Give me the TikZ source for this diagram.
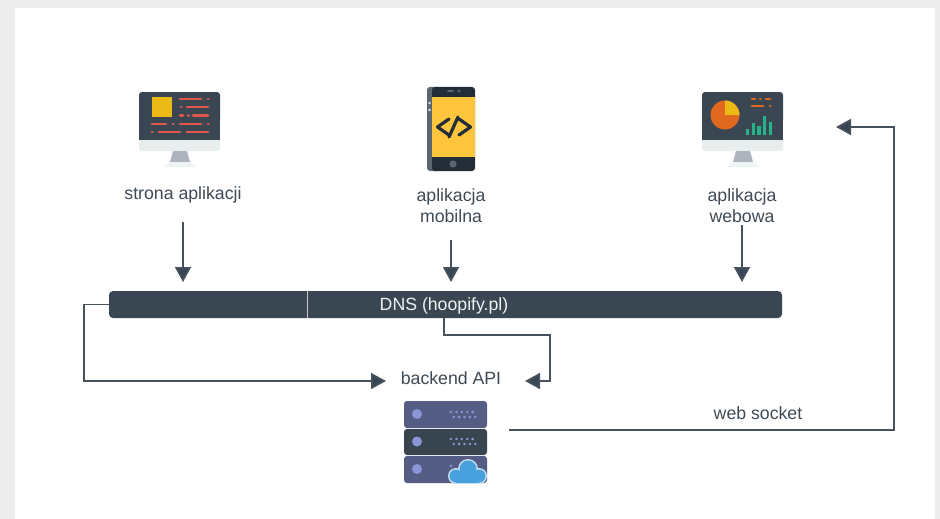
\documentclass[tikz,border=0pt]{standalone}
\usepackage{fontspec}
\setmainfont{Liberation Sans}
\usetikzlibrary{arrows.meta}
\definecolor{pagebg}{HTML}{EDEDED}
\definecolor{slate}{HTML}{3A4753}
\definecolor{linec}{HTML}{46525E}
\definecolor{txt}{HTML}{3F4A54}
\definecolor{basec}{HTML}{E8EEEE}
\definecolor{footc}{HTML}{EEF3F3}
\definecolor{standc}{HTML}{AEB4BD}
\definecolor{sun}{HTML}{ECBA16}
\definecolor{redc}{HTML}{E2574C}
\definecolor{orangec}{HTML}{E0681F}
\definecolor{greenc}{HTML}{26B38A}
\definecolor{phoneY}{HTML}{FFC53D}
\definecolor{phoneD}{HTML}{222D37}
\definecolor{phoneG}{HTML}{5C6670}
\definecolor{srvA}{HTML}{565D85}
\definecolor{srvB}{HTML}{38454F}
\definecolor{srvDot}{HTML}{8A96D8}
\definecolor{cloudc}{HTML}{48A0DC}
\definecolor{cloudl}{HTML}{C5DFEE}
\tikzset{
  x=1pt,y=-1pt,
  conn/.style={draw=linec,line width=1.7pt,-{Triangle[length=15pt,width=16pt,fill=slate]},line join=miter},
  label/.style={text=txt,font=\fontsize{17.7}{21}\selectfont,align=center,inner sep=0pt},
  holder/.style={inner sep=0pt,minimum width=#1},
  reddash/.style={draw=redc,line width=2.8pt,line cap=round},
  orangedash/.style={draw=orangec,line width=2.8pt,line cap=round},
  greenbar/.style={draw=greenc,line width=3.2pt},
  monitorbody/.pic={
    \fill[basec,rounded corners=3pt] (0,40) rectangle (81,59);
    \fill[slate,rounded corners=3pt] (0,0) rectangle (81,30);
    \fill[slate] (0,20) rectangle (81,48);
    \fill[standc] (34,59) -- (48,59) -- (51,70) -- (31,70) -- cycle;
    \fill[footc] (31,70) -- (51,70) -- (58,75) -- (24,75) -- cycle;
  }
}
\begin{document}
\begin{tikzpicture}
\useasboundingbox (0,0) rectangle (940,519);
\fill[pagebg] (0,0) rectangle (940,519);
\fill[white] (15,8) rectangle (935,519);

% monitor 1
\pic at (139,92) {monitorbody};
\fill[sun] (152,97) rectangle (172,117);
\foreach \xa/\xb/\yy in {180/201/99,208/208.4/99,181/181.4/107,187/208/107,180/183/115.5,188/188.4/115.5,193/208/115.5,152/166/124,173/173.4/124,180/201/124,208/208.4/124,152/152.4/132,159/180/132,187/208/132}
  \draw[reddash] (\xa,\yy) -- (\xb,\yy);
\node[holder=81pt,minimum height=75pt] (siteicon) at (179.5,129.5) {};

% phone
\fill[phoneG,rounded corners=3pt] (427,87) rectangle (440,171);
\fill[phoneD,rounded corners=3pt] (432,87) rectangle (475,171);
\fill[phoneY] (432,97) rectangle (475,157);
\fill[white!80!phoneG] (429.5,103) circle (1.4);
\fill[white!80!phoneG] (429.5,110) circle (1.4);
\draw[phoneG,line width=2pt,line cap=round] (448,91) -- (453,91);
\fill[phoneG] (459,91) circle (1.7);
\fill[phoneG] (453,164) circle (3.6);
\draw[phoneD,line width=3.2pt,line cap=round,line join=round] (449,119) -- (437.5,127) -- (449,135);
\draw[phoneD,line width=3.2pt,line cap=round,line join=round] (459,119) -- (470.5,127) -- (459,135);
\draw[phoneD,line width=3.2pt,line cap=round] (458,117) -- (449,137);
\node[holder=48pt,minimum height=84pt] (phoneicon) at (451,129) {};

% monitor 2
\pic at (702,92) {monitorbody};
\fill[orangec] (725,115) circle (14.5);
\fill[sun] (725,115) -- (725,100.5) arc[start angle=-90,end angle=0,radius=14.5] -- cycle;
\foreach \xa/\xb/\yy in {752/755/99,760/760.4/99,766/770/99,752/763/106,770/770.4/106}
  \draw[orangedash] (\xa,\yy) -- (\xb,\yy);
\foreach \xx/\yy in {747.7/129,753.3/123,759/126,764.7/116,770.3/122}
  \draw[greenbar] (\xx,135) -- (\xx,\yy);
\node[holder=81pt,minimum height=75pt] (webicon) at (742.5,129.5) {};

% server
\fill[srvA,rounded corners=3pt] (404,401) rectangle (487,428);
\fill[srvB,rounded corners=3pt] (404,429) rectangle (487,455);
\fill[srvA,rounded corners=3pt] (404,456) rectangle (487,483);
\foreach \yy in {414,441.5,469} \fill[srvDot] (417,\yy) circle (5);
\foreach \yy in {412,439} {
  \foreach \xx in {451,456.4,461.8,467.2,472.6} \fill[srvDot] (\xx,\yy) circle (1.4);
  \foreach \xx in {453.7,459.1,464.5,469.9,475.3} \fill[srvDot] (\xx,\yy+5) circle (1.4);
}
\fill[srvDot] (451,466) circle (1.4);
\fill[cloudl] (468,469) circle (10);
\fill[cloudl] (456,476) circle (8);
\fill[cloudl] (479,476) circle (8);
\fill[cloudl] (456,476) rectangle (479,484);
\fill[cloudc] (468,469) circle (8.5);
\fill[cloudc] (456,476) circle (6.5);
\fill[cloudc] (479,476) circle (6.5);
\fill[cloudc] (456,474) rectangle (479,482.5);
\node[holder=83pt,minimum height=82pt] (server) at (445.5,442) {};

% bar
\node[fill=slate,rounded corners=4pt,minimum width=673pt,minimum height=27pt,inner sep=0pt] (dns) at (445.5,304.5) {};
\node[text=white!92!slate,font=\fontsize{17.7}{21}\selectfont,inner sep=0pt] (dnstext) at (444,305.5) {DNS (hoopify.pl)};
\coordinate (barsplit) at (307.5,291);
\draw[white!70!slate,line width=0.8pt] (barsplit) -- (barsplit |- dns.south);

% labels
\node[label] (strona) at (183,195) {strona aplikacji};
\node[label] (mobilna) at (451,205.5) {aplikacja\\mobilna};
\node[label] (webowa) at (742,205.5) {aplikacja\\webowa};
\node[label] (backend) at (451,378) {backend API};
\node[label] (socket) at (758,413) {web socket};

% connectors
\coordinate (a1) at (183,222);
\coordinate (a2) at (451,240);
\coordinate (a3) at (742,225);
\coordinate (barentry) at (0,282);
\draw[conn] (a1) -- (a1 |- barentry);
\draw[conn] (a2) -- (a2 |- barentry);
\draw[conn] (a3) -- (a3 |- barentry);

\coordinate (leftrail) at (84,381);
\coordinate (lefttip) at (386,381);
\draw[conn] (dns.west) -| (leftrail) -- (lefttip);

\coordinate (dnsdrop) at (444,318);
\coordinate (rightrail) at (550,335);
\coordinate (righttip) at (525,381);
\draw[conn] (dnsdrop) |- (rightrail) |- (righttip);

\coordinate (wsstart) at (509,430);
\coordinate (wsturn) at (894,127);
\coordinate (wstip) at (836,127);
\draw[conn] (wsstart) -| (wsturn) -- (wstip);
\end{tikzpicture}
\end{document}
